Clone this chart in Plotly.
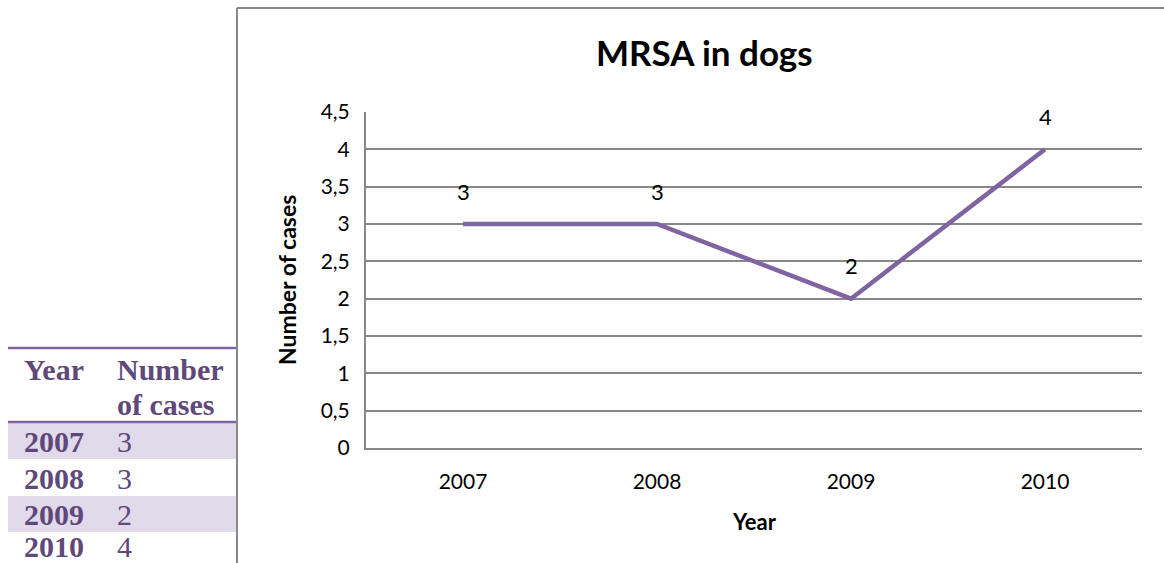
import plotly.graph_objects as go

years = ["2007", "2008", "2009", "2010"]
cases = [3, 3, 2, 4]
y_ticks = [0, 0.5, 1, 1.5, 2, 2.5, 3, 3.5, 4, 4.5]
y_tick_text = ["0", "0,5", "1", "1,5", "2", "2,5", "3", "3,5", "4", "4,5"]

W, H = 1164, 563
def px(x): return x / W
def py(y): return 1 - y / H

PURPLE = "#8064A2"
TXT_PURPLE = "#5F497A"
SHADE = "#E1DAEA"
GRID = "#888888"

fig = go.Figure()
fig.add_trace(go.Scatter(
    x=years, y=cases, mode="lines",
    line=dict(color=PURPLE, width=4.5),
    hoverinfo="skip", showlegend=False,
))

annotations = []
# data labels (category index positions on the category axis)
for i, c in enumerate(cases):
    annotations.append(dict(x=i, y=c, xref="x", yref="y", text=str(c), showarrow=False,
                            yshift=33, font=dict(family="Lato", size=22, color="#000")))

# title / axis titles
annotations.append(dict(x=px(704), y=py(52), xref="paper", yref="paper", text="<b>MRSA in dogs</b>",
                        showarrow=False, font=dict(family="Lato", size=35, color="#000"),
                        xanchor="center", yanchor="middle"))
annotations.append(dict(x=px(287), y=py(280), xref="paper", yref="paper", text="<b>Number of cases</b>",
                        showarrow=False, textangle=-90, font=dict(family="Lato", size=23, color="#000"),
                        xanchor="center", yanchor="middle"))
annotations.append(dict(x=px(754), y=py(521), xref="paper", yref="paper", text="<b>Year</b>",
                        showarrow=False, font=dict(family="Lato", size=22, color="#000"),
                        xanchor="center", yanchor="middle"))

shapes = []
# chart frame
shapes.append(dict(type="line", xref="paper", yref="paper", x0=px(237), x1=px(237), y0=py(8), y1=py(563),
                   line=dict(color=GRID, width=2)))
shapes.append(dict(type="line", xref="paper", yref="paper", x0=px(237), x1=px(1164), y0=py(8), y1=py(8),
                   line=dict(color=GRID, width=2)))

# table
row_top = [422, 459, 496, 532]
row_bot = [459, 496, 532, 563]
for i in range(len(years)):
    if i % 2 == 0:
        shapes.append(dict(type="rect", xref="paper", yref="paper", x0=px(8), x1=px(236),
                           y0=py(row_bot[i]), y1=py(row_top[i]), fillcolor=SHADE, line=dict(width=0), layer="below"))
shapes.append(dict(type="line", xref="paper", yref="paper", x0=px(8), x1=px(236), y0=py(348), y1=py(348),
                   line=dict(color=PURPLE, width=2.5)))
shapes.append(dict(type="line", xref="paper", yref="paper", x0=px(8), x1=px(236), y0=py(422), y1=py(422),
                   line=dict(color=PURPLE, width=2.5)))

tf = "Liberation Serif"
TS = 30
annotations.append(dict(x=px(22), y=py(369), xref="paper", yref="paper", text="<b>Year</b>", showarrow=False,
                        xanchor="left", yanchor="middle", font=dict(family=tf, size=TS, color=TXT_PURPLE)))
annotations.append(dict(x=px(115), y=py(369), xref="paper", yref="paper", text="<b>Number</b>", showarrow=False,
                        xanchor="left", yanchor="middle", font=dict(family=tf, size=TS, color=TXT_PURPLE)))
annotations.append(dict(x=px(115), y=py(404), xref="paper", yref="paper", text="<b>of cases</b>", showarrow=False,
                        xanchor="left", yanchor="middle", font=dict(family=tf, size=TS, color=TXT_PURPLE)))
row_cy = [441, 478, 514, 546]
for i, (yr, c) in enumerate(zip(years, cases)):
    annotations.append(dict(x=px(22), y=py(row_cy[i]), xref="paper", yref="paper", text=f"<b>{yr}</b>",
                            showarrow=False, xanchor="left", yanchor="middle",
                            font=dict(family=tf, size=TS, color=TXT_PURPLE)))
    annotations.append(dict(x=px(115), y=py(row_cy[i]), xref="paper", yref="paper", text=str(c),
                            showarrow=False, xanchor="left", yanchor="middle",
                            font=dict(family=tf, size=TS, color=TXT_PURPLE)))

fig.update_layout(
    width=W, height=H,
    margin=dict(l=0, r=0, t=0, b=0, autoexpand=False),
    paper_bgcolor="white", plot_bgcolor="white",
    showlegend=False,
    annotations=annotations,
    shapes=shapes,
    xaxis=dict(domain=[px(366), px(1142)], type="category", range=[-0.5, 3.5],
               showgrid=False, showline=True, linecolor=GRID, linewidth=2,
               ticks="", tickfont=dict(family="Lato", size=21, color="#000"),
               ticklabelstandoff=14, fixedrange=True, zeroline=False, automargin=False),
    yaxis=dict(domain=[py(448), py(112)], range=[0, 4.5],
               tickvals=y_ticks, ticktext=y_tick_text,
               showgrid=True, gridcolor=GRID, gridwidth=2,
               showline=True, linecolor=GRID, linewidth=2,
               ticks="", tickfont=dict(family="Lato", size=21, color="#000"),
               ticklabelstandoff=10, zeroline=False, fixedrange=True, automargin=False),
)

fig.write_html("out.html")
